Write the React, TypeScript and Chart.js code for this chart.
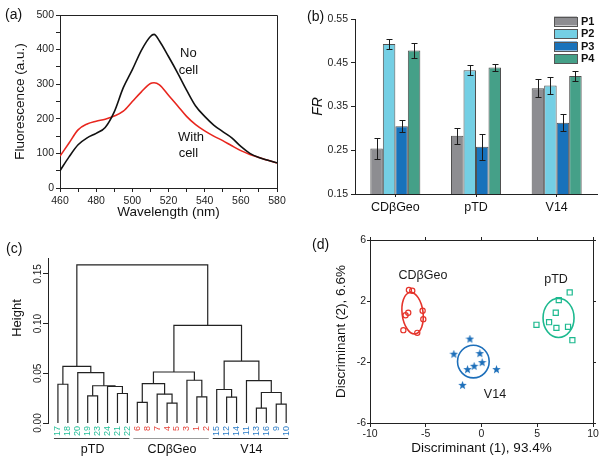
import React, { useEffect, useRef } from 'react';
import { Chart, registerables } from 'chart.js';

Chart.register(...registerables);

const FONT = "'Liberation Sans', Arial, Helvetica, sans-serif";
Chart.defaults.font.family = FONT;
Chart.defaults.color = '#1a1a1a';

// ---------------- (a) fluorescence spectra ----------------
const wavelengths = [460, 465, 470, 475, 480, 485, 490, 495, 500, 505, 510, 512, 515, 520, 525, 530, 535, 540, 545, 550, 555, 560, 565, 570, 575, 580];
const noCell = [50, 90, 125, 145, 158, 175, 220, 290, 342, 398, 438, 444, 425, 380, 333, 283, 237, 207, 182, 163, 145, 120, 100, 88, 80, 73];
const withCell = [92, 130, 168, 185, 193, 199, 208, 222, 250, 278, 302, 304, 298, 268, 238, 207, 183, 165, 150, 137, 122, 108, 97, 88, 80, 72];
const spectrumNotes = ['No', 'cell', 'With', 'cell'];
const spectrumNoteX = [531, 531, 532.5, 531];
const spectrumNoteY = [390, 341, 147, 101];

// ---------------- (b) FR bars ----------------
const promoters = ['CDβGeo', 'pTD', 'V14'];
const probeNames = ['P1', 'P2', 'P3', 'P4'];
const frP1 = [0.254, 0.283, 0.392];
const frP2 = [0.493, 0.433, 0.398];
const frP3 = [0.305, 0.258, 0.313];
const frP4 = [0.478, 0.439, 0.420];
const errP1 = [0.024, 0.018, 0.020];
const errP2 = [0.011, 0.011, 0.020];
const errP3 = [0.014, 0.030, 0.019];
const errP4 = [0.017, 0.008, 0.011];
const frSeries = [frP1, frP2, frP3, frP4];
const frErrors = [errP1, errP2, errP3, errP4];
const probeColors = ['#8d8d91', '#74cfe4', '#1872bb', '#45a088'];

// ---------------- (c) dendrogram ----------------
const leafOrder = ['17', '18', '20', '19', '23', '24', '21', '22', '6', '8', '7', '4', '5', '3', '1', '2', '15', '12', '14', '11', '13', '16', '9', '10'];
const leafGroup = [0, 0, 0, 0, 0, 0, 0, 0, 1, 1, 1, 1, 1, 1, 1, 1, 2, 2, 2, 2, 2, 2, 2, 2];
// merge table (R convention: negative = leaf id, positive = earlier merge row)
const mergeLeft = [-13, -9, -4, -6, -1, -12, -19, -7, -21, 1, -15, -24, 7, -17, 4, -3, -11, -20, 15, 14, 11, 19, 20];
const mergeRight = [-16, -10, -5, -8, -2, -14, -23, 3, -22, 2, 6, 9, 12, -18, 8, 5, 10, 13, 16, 18, 17, 21, 22];
const mergeHeight = [0.015, 0.019, 0.020, 0.0207, 0.0263, 0.026, 0.0273, 0.029, 0.0297, 0.0307, 0.0337, 0.0367, 0.0375, 0.039, 0.0397, 0.043, 0.0427, 0.0507, 0.0513, 0.057, 0.0623, 0.0983, 0.159];
const groupNames = ['pTD', 'CDβGeo', 'V14'];
const groupLeafColors = ['#25bf98', '#e6433a', '#2a7cc7'];
const groupLineColors = ['#444444', '#9a9a9a', '#333333'];

// ---------------- (d) discriminant analysis ----------------
const cdX = [-6.51, -6.21, -6.57, -6.81, -5.28, -5.22, -7.01, -5.76];
const cdY = [2.72, 2.67, 1.23, 1.07, 1.36, 0.81, 0.09, -0.09];
const ptdX = [7.91, 6.93, 6.66, 6.06, 4.93, 6.72, 7.76, 8.15];
const ptdY = [2.56, 2.06, 1.23, 0.61, 0.44, 0.24, 0.31, -0.57];
const v14X = [-1.04, -2.48, -0.15, -1.25, -0.66, 0.06, 1.34, -1.70];
const v14Y = [-0.50, -1.49, -1.45, -2.50, -2.28, -2.04, -2.50, -3.53];
const ldaGroups = ['CDβGeo', 'pTD', 'V14'];
const ellipseCx = [-6.18, 6.91, -0.73];
const ellipseCy = [1.20, 0.89, -1.97];
const ellipseRx = [0.94, 1.39, 1.42];
const ellipseRy = [1.37, 1.28, 1.07];
const ellipseTilt = [-7, 0, 0];
const ldaLabelX = [-5.25, 6.68, 1.21];
const ldaLabelY = [3.64, 3.38, -4.16];
const ldaColors = ['#e5332a', '#1db98f', '#1d6fba'];

const AXIS = '#222';

// ---------- plugins ----------
const framePlugin = {
  id: 'frame',
  afterDraw(chart: any) {
    const { ctx, chartArea: a } = chart;
    ctx.save();
    ctx.strokeStyle = AXIS;
    ctx.lineWidth = 1;
    ctx.beginPath();
    ctx.moveTo(a.left, Math.round(a.top) + 0.5);
    ctx.lineTo(Math.round(a.right) + 0.5, Math.round(a.top) + 0.5);
    ctx.lineTo(Math.round(a.right) + 0.5, a.bottom);
    ctx.stroke();
    ctx.restore();
  },
};

const notesPlugin = {
  id: 'notes',
  afterDatasetsDraw(chart: any) {
    const { ctx } = chart;
    const x = chart.scales.x, y = chart.scales.y;
    ctx.save();
    ctx.font = `13px ${FONT}`;
    ctx.fillStyle = '#111';
    ctx.textAlign = 'center';
    ctx.textBaseline = 'middle';
    spectrumNotes.forEach((t, i) => {
      ctx.fillText(t, x.getPixelForValue(spectrumNoteX[i]), y.getPixelForValue(spectrumNoteY[i]));
    });
    ctx.restore();
  },
};

const errorBarPlugin = {
  id: 'errorBars',
  afterDatasetsDraw(chart: any) {
    const { ctx } = chart;
    const y = chart.scales.y;
    ctx.save();
    ctx.strokeStyle = '#1a1a1a';
    ctx.lineWidth = 1;
    frSeries.forEach((vals, i) => {
      const meta = chart.getDatasetMeta(i);
      vals.forEach((v, j) => {
        const e = frErrors[i][j];
        const bx = Math.round(meta.data[j].x) + 0.5;
        const t = Math.round(y.getPixelForValue(v + e)) + 0.5;
        const b = Math.round(y.getPixelForValue(v - e)) + 0.5;
        ctx.beginPath();
        ctx.moveTo(bx, t); ctx.lineTo(bx, b);
        ctx.moveTo(bx - 3, t); ctx.lineTo(bx + 3, t);
        ctx.moveTo(bx - 3, b); ctx.lineTo(bx + 3, b);
        ctx.stroke();
      });
    });
    ctx.restore();
  },
};

const barLegendPlugin = {
  id: 'barLegend',
  afterDraw(chart: any) {
    const { ctx } = chart;
    const x0 = chart.width - 50;
    ctx.save();
    chart.data.datasets.forEach((ds: any, i: number) => {
      const cy = 21 + i * 12.5;
      ctx.fillStyle = ds.backgroundColor;
      ctx.fillRect(x0, cy - 4.5, 23, 9);
      ctx.strokeStyle = '#555';
      ctx.lineWidth = 1;
      ctx.strokeRect(x0 + 0.5, Math.round(cy - 4.5) + 0.5, 23, 9);
      ctx.fillStyle = '#111';
      ctx.font = `bold 11px ${FONT}`;
      ctx.textAlign = 'left';
      ctx.textBaseline = 'middle';
      ctx.fillText(ds.label, x0 + 27, cy + 0.5);
    });
    ctx.restore();
  },
};

const dendroDecorPlugin = {
  id: 'dendroDecor',
  afterDraw(chart: any) {
    const { ctx, chartArea } = chart;
    const x = chart.scales.x;
    ctx.save();
    // y title
    ctx.font = `13px ${FONT}`;
    ctx.fillStyle = '#111';
    ctx.textAlign = 'center';
    ctx.textBaseline = 'middle';
    ctx.translate(17, chartArea.top + 60);
    ctx.rotate(-Math.PI / 2);
    ctx.fillText('Height', 0, 0);
    ctx.setTransform(1, 0, 0, 1, 0, 0);
    // group underlines and names
    groupNames.forEach((name, g) => {
      const idx = leafGroup.map((v, i) => (v === g ? i + 1 : -1)).filter((v) => v > 0);
      const first = Math.min(...idx), last = Math.max(...idx);
      const xa = x.getPixelForValue(first - 0.4), xb = x.getPixelForValue(last + 0.2);
      ctx.strokeStyle = groupLineColors[g];
      ctx.lineWidth = 1;
      ctx.beginPath();
      ctx.moveTo(xa, 208.5);
      ctx.lineTo(xb, 208.5);
      ctx.stroke();
      ctx.fillStyle = '#111';
      ctx.font = `12.5px ${FONT}`;
      ctx.fillText(name, x.getPixelForValue((first + last) / 2), 220);
    });
    ctx.restore();
  },
};

const ldaDecorPlugin = {
  id: 'ldaDecor',
  beforeDatasetsDraw(chart: any) {
    const { ctx } = chart;
    const x = chart.scales.x, y = chart.scales.y;
    ctx.save();
    ldaGroups.forEach((name, g) => {
      const cx = x.getPixelForValue(ellipseCx[g]);
      const cy = y.getPixelForValue(ellipseCy[g]);
      const rx = Math.abs(x.getPixelForValue(ellipseCx[g] + ellipseRx[g]) - cx);
      const ry = Math.abs(y.getPixelForValue(ellipseCy[g] + ellipseRy[g]) - cy);
      ctx.beginPath();
      ctx.ellipse(cx, cy, rx, ry, (ellipseTilt[g] * Math.PI) / 180, 0, Math.PI * 2);
      ctx.strokeStyle = ldaColors[g];
      ctx.lineWidth = 1.6;
      ctx.stroke();
      ctx.fillStyle = '#1a1a1a';
      ctx.font = `12.5px ${FONT}`;
      ctx.textAlign = 'center';
      ctx.textBaseline = 'middle';
      ctx.fillText(name, x.getPixelForValue(ldaLabelX[g]), y.getPixelForValue(ldaLabelY[g]));
    });
    ctx.restore();
  },
};

// ---------- chart factories ----------
const baseOptions = {
  responsive: false,
  animation: false as const,
  events: [] as any[],
};

function makeSpectrum(): any {
  return {
    type: 'line',
    data: {
      datasets: [
        { label: 'No cell', data: wavelengths.map((w, i) => ({ x: w, y: noCell[i] })), borderColor: '#111111', borderWidth: 1.6, pointRadius: 0, cubicInterpolationMode: 'monotone' },
        { label: 'With cell', data: wavelengths.map((w, i) => ({ x: w, y: withCell[i] })), borderColor: '#e8261e', borderWidth: 1.6, pointRadius: 0, cubicInterpolationMode: 'monotone' },
      ],
    },
    options: {
      ...baseOptions,
      layout: { padding: { left: 0, top: 15, right: 23, bottom: 0 } },
      plugins: { legend: { display: false }, tooltip: { enabled: false } },
      scales: {
        x: {
          type: 'linear', min: 460, max: 580,
          ticks: { stepSize: 10, autoSkip: false, maxRotation: 0, font: { size: 10.5 }, color: '#222', padding: 3, callback: (v: number) => (v % 20 === 0 ? String(v) : '') },
          grid: { drawOnChartArea: false, tickLength: 4, color: AXIS },
          border: { color: AXIS },
          title: { display: true, text: 'Wavelength (nm)', font: { size: 13.5 }, color: '#111', padding: { top: 0, bottom: 10 } },
          afterFit: (s: any) => { s.height = 42; },
        },
        y: {
          min: 0, max: 500,
          ticks: { stepSize: 50, autoSkip: false, font: { size: 10.5 }, color: '#222', padding: 2, callback: (v: number) => (v % 100 === 0 ? String(v) : '') },
          grid: { drawOnChartArea: false, tickLength: 4, color: AXIS },
          border: { color: AXIS },
          title: { display: true, text: 'Fluorescence (a.u.)', font: { size: 13.5 }, color: '#111', padding: { top: 12, bottom: 0 } },
          afterFit: (s: any) => { s.width = 60; },
        },
      },
    },
    plugins: [framePlugin, notesPlugin],
  };
}

function makeBars(): any {
  return {
    type: 'bar',
    data: {
      labels: promoters,
      datasets: frSeries.map((d, i) => ({
        label: probeNames[i], data: d, backgroundColor: probeColors[i], borderColor: '#505050', borderWidth: 1,
        categoryPercentage: 0.62, barPercentage: 1,
      })),
    },
    options: {
      ...baseOptions,
      layout: { padding: { left: 0, top: 19, right: 7, bottom: 0 } },
      plugins: { legend: { display: false }, tooltip: { enabled: false } },
      scales: {
        x: {
          ticks: { font: { size: 12.5 }, color: '#111', padding: 3 },
          grid: { drawOnChartArea: false, offset: false, tickLength: 3, color: AXIS },
          border: { color: AXIS },
          afterFit: (s: any) => { s.height = 36; },
        },
        y: {
          min: 0.15, max: 0.55,
          ticks: { stepSize: 0.1, font: { size: 10.5 }, color: '#222', padding: 3, callback: (v: number) => v.toFixed(2) },
          grid: { drawOnChartArea: false, tickLength: 4, color: AXIS },
          border: { color: AXIS },
          title: { display: true, text: 'FR', font: { size: 14, style: 'italic' }, color: '#111', padding: { top: 10, bottom: 0 } },
          afterFit: (s: any) => { s.width = 55; },
        },
      },
    },
    plugins: [errorBarPlugin, barLegendPlugin],
  };
}

function makeDendro(): any {
  const nodeX: number[] = [];
  const nodeH: number[] = [];
  const pos = (c: number) => (c < 0 ? { x: leafOrder.indexOf(String(-c)) + 1, h: 0 } : { x: nodeX[c - 1], h: nodeH[c - 1] });
  const links = mergeLeft.map((l, k) => {
    const a = pos(l), b = pos(mergeRight[k]);
    nodeX[k] = (a.x + b.x) / 2;
    nodeH[k] = mergeHeight[k];
    return [{ x: a.x, y: a.h }, { x: a.x, y: mergeHeight[k] }, { x: b.x, y: mergeHeight[k] }, { x: b.x, y: b.h }];
  });
  return {
    type: 'line',
    data: {
      datasets: links.map((pts) => ({ data: pts, borderColor: '#222', borderWidth: 1.2, pointRadius: 0, tension: 0, fill: false })),
    },
    options: {
      ...baseOptions,
      layout: { padding: { left: 0, top: 28, right: 1, bottom: 0 } },
      plugins: { legend: { display: false }, tooltip: { enabled: false } },
      scales: {
        x: {
          type: 'linear', min: 0, max: 24.6, bounds: 'data',
          afterBuildTicks: (s: any) => { s.ticks = leafOrder.map((_, i) => ({ value: i + 1 })); },
          ticks: {
            autoSkip: false, minRotation: 90, maxRotation: 90, font: { size: 9 }, padding: 3,
            color: (c: any) => groupLeafColors[leafGroup[c.index] ?? 0],
            callback: (_v: number, i: number) => leafOrder[i],
          },
          grid: { display: false, drawTicks: false },
          border: { display: false },
          afterFit: (s: any) => { s.height = 39; },
        },
        y: {
          min: 0, max: 0.166, bounds: 'data',
          ticks: { stepSize: 0.05, includeBounds: false, minRotation: 90, maxRotation: 90, crossAlign: 'center', font: { size: 10 }, color: '#222', padding: -5, callback: (v: number) => v.toFixed(2) },
          grid: { drawOnChartArea: false, tickLength: 5, color: AXIS },
          border: { color: AXIS },
          afterFit: (s: any) => { s.width = 48; },
        },
      },
    },
    plugins: [dendroDecorPlugin],
  };
}

function makeStar(size: number, color: string) {
  const c = document.createElement('canvas');
  c.width = size;
  c.height = size;
  const g = c.getContext('2d')!;
  const R = size / 2, r = R * 0.42;
  g.beginPath();
  for (let k = 0; k < 10; k++) {
    const ang = -Math.PI / 2 + (k * Math.PI) / 5;
    const rad = k % 2 === 0 ? R : r;
    g.lineTo(R + rad * Math.cos(ang), R + rad * Math.sin(ang));
  }
  g.closePath();
  g.fillStyle = color;
  g.fill();
  return c;
}

function makeLda(): any {
  const star = makeStar(9, ldaColors[2]);
  const mirror = (pos: string, min: number, max: number, step: number, fit: (s: any) => void) => ({
    type: 'linear', position: pos, min, max,
    ticks: { display: false, stepSize: step },
    grid: { drawOnChartArea: false, tickLength: 3, color: AXIS },
    border: { color: AXIS },
    afterFit: fit,
  });
  return {
    type: 'scatter',
    data: {
      datasets: [
        { label: ldaGroups[0], data: cdX.map((v, i) => ({ x: v, y: cdY[i] })), pointStyle: 'circle', pointRadius: 2.6, borderColor: ldaColors[0], backgroundColor: 'rgba(255,255,255,0)', borderWidth: 1.2 },
        { label: ldaGroups[1], data: ptdX.map((v, i) => ({ x: v, y: ptdY[i] })), pointStyle: 'rect', pointRadius: 3.6, borderColor: ldaColors[1], backgroundColor: 'rgba(255,255,255,0)', borderWidth: 1.2 },
        { label: ldaGroups[2], data: v14X.map((v, i) => ({ x: v, y: v14Y[i] })), pointStyle: star, pointRadius: 4.5, borderColor: ldaColors[2], backgroundColor: ldaColors[2] },
      ],
    },
    options: {
      ...baseOptions,
      layout: { padding: 0 },
      plugins: { legend: { display: false }, tooltip: { enabled: false } },
      scales: {
        x: {
          type: 'linear', min: -10, max: 10,
          ticks: { stepSize: 5, font: { size: 10.5 }, color: '#222', padding: 1, maxRotation: 0 },
          grid: { drawOnChartArea: false, tickLength: 4, color: AXIS },
          border: { color: AXIS },
          title: { display: true, text: 'Discriminant (1), 93.4%', font: { size: 13.5 }, color: '#111', padding: { top: 0, bottom: 6 } },
          afterFit: (s: any) => { s.height = 39; },
        },
        y: {
          type: 'linear', min: -6, max: 6,
          ticks: { stepSize: 4, font: { size: 10.5 }, color: '#222', padding: 1 },
          grid: { drawOnChartArea: false, tickLength: 3, color: AXIS },
          border: { color: AXIS },
          title: { display: true, text: 'Discriminant (2), 6.6%', font: { size: 13.5 }, color: '#111', padding: { top: 33, bottom: 0 } },
          afterFit: (s: any) => { s.width = 70; },
        },
        x2: mirror('top', -10, 10, 5, (s: any) => { s.height = 10; }),
        y2: mirror('right', -6, 6, 4, (s: any) => { s.width = 11; }),
      },
    },
    plugins: [ldaDecorPlugin],
  };
}

function ChartBox(props: { left: number; top: number; width: number; height: number; make: () => any }) {
  const ref = useRef<HTMLCanvasElement>(null);
  useEffect(() => {
    const chart = new Chart(ref.current as HTMLCanvasElement, props.make());
    return () => chart.destroy();
  }, []);
  return (
    <canvas
      ref={ref}
      width={props.width}
      height={props.height}
      style={{ position: 'absolute', left: props.left, top: props.top, width: props.width, height: props.height, display: 'block' }}
    />
  );
}

const tagStyle = (left: number, top: number): React.CSSProperties => ({
  position: 'absolute', left, top, fontSize: 14, lineHeight: '14px', fontFamily: FONT, color: '#111',
});

export default function App() {
  return (
    <div style={{ position: 'absolute', left: 0, top: 0, width: 604, height: 462, background: '#fff', overflow: 'hidden' }}>
      <ChartBox left={0} top={0} width={300} height={230} make={makeSpectrum} />
      <ChartBox left={300} top={0} width={304} height={230} make={makeBars} />
      <ChartBox left={0} top={230} width={300} height={232} make={makeDendro} />
      <ChartBox left={300} top={230} width={304} height={232} make={makeLda} />
      <div style={tagStyle(5, 7)}>(a)</div>
      <div style={tagStyle(307, 9)}>(b)</div>
      <div style={tagStyle(6, 241)}>(c)</div>
      <div style={tagStyle(312, 237)}>(d)</div>
    </div>
  );
}
